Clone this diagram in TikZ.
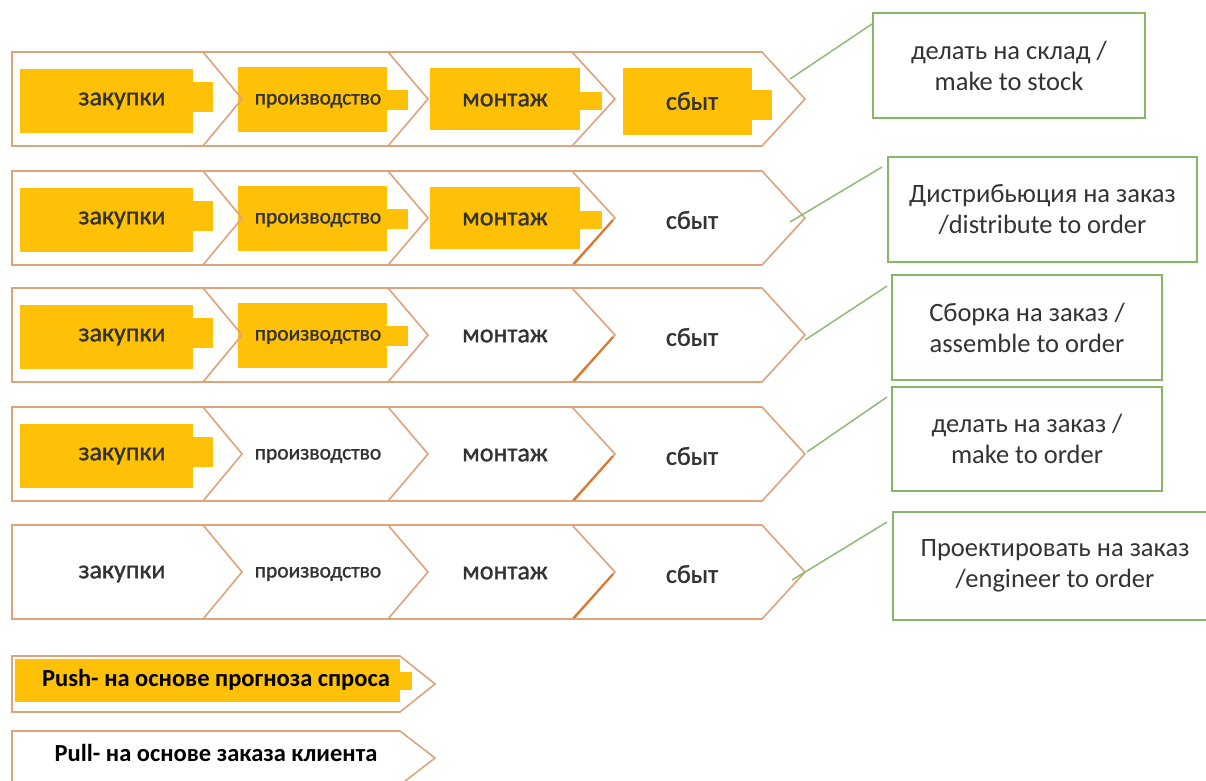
\documentclass[tikz,border=0pt]{standalone}
\usepackage{fontspec}
\setmainfont{Carlito}
\newfontfamily\medfont[FakeBold=1.2]{Carlito}
\usetikzlibrary{calc}
\definecolor{chevc}{HTML}{DDA47C}
\definecolor{chevdk}{HTML}{D97A30}
\definecolor{hly}{HTML}{FFC107}
\definecolor{txtc}{HTML}{333333}
\definecolor{boxg}{HTML}{86B66A}
\definecolor{lineg}{HTML}{8DBB78}
\tikzset{
  outl/.style={draw=chevc, line width=1.6pt, line join=miter},
  accent/.style={draw=chevdk, line width=2.2pt},
  hl/.style={fill=hly, draw=none},
  lbl/.style={text=txtc, inner sep=0pt, font=\medfont\fontsize{26}{30}\selectfont},
  lblsm/.style={text=txtc, inner sep=0pt, font=\medfont\fontsize{21.5}{25}\selectfont},
  legtxt/.style={text=black, inner sep=0pt, font=\bfseries\fontsize{24.5}{28}\selectfont},
  boxn/.style={draw=boxg, line width=2pt, text=txtc, align=center, inner sep=0pt,
    font=\fontsize{26.5}{31}\selectfont},
  conn/.style={draw=lineg, line width=1.5pt}
}
\begin{document}
\begin{tikzpicture}[x=1pt,y=-1pt]
\clip (0,0) rectangle (1206,780);
\fill[white] (0,0) rectangle (1206,780);
% rows: top / number of highlighted stages / row index
\foreach \T/\n/\r in {52/4/1,171/3/2,288/2/3,407/1/4,525/0/5}{
  \pgfmathsetmacro{\B}{\T+94}
  \pgfmathsetmacro{\M}{\T+47}
  % highlights
  \ifnum\n>0
    \fill[hl] (20,\T+17) rectangle (193,\T+81);
    \fill[hl] (193,\T+30) rectangle (213,\T+60);
  \fi
  \ifnum\n>1
    \fill[hl] (238,\T+15) rectangle (387,\T+80);
    \fill[hl] (387,\T+38) rectangle (408,\T+58);
  \fi
  \ifnum\n>2
    \fill[hl] (430,\T+16) rectangle (580,\T+78);
    \fill[hl] (580,\T+40) rectangle (602,\T+58);
  \fi
  \ifnum\n>3
    \fill[hl] (623,\T+16) rectangle (752,\T+83);
    \fill[hl] (752,\T+38) rectangle (772,\T+68);
  \fi
  % outline of the four chevrons
  \draw[outl] (12,\T) -- (762,\T) -- (805,\M) -- (762,\B) -- (12,\B) -- cycle;
  \draw[outl] (203,\T) -- (242,\M) -- (203,\B);
  \draw[outl] (388,\T) -- (428,\M) -- (388,\B);
  \draw[outl] (572,\T) -- (615,\M) -- (572,\B);
  \ifnum\r>1
    \draw[accent] (574,\B-1) -- (613,\M+2);
  \fi
  % labels
  \node[lbl]   (z\r) at (122,\M+2) {закупки};
  \node[lblsm] (p\r) at (318,\M+2) {производство};
  \node[lbl]   (m\r) at (505,\M+1) {монтаж};
  \node[lbl]   (s\r) at (692,\M+2) {сбыт};
}
% right-hand boxes
\node[boxn, minimum width=272, minimum height=105] (b1) at (1009,65.5)
  {делать на склад /\\make to stock};
\node[boxn, minimum width=309, minimum height=105] (b2) at (1042.5,209.5)
  {Дистрибьюция на заказ\\/distribute to order};
\node[boxn, minimum width=270, minimum height=105] (b3) at (1027,327.5)
  {Сборка на заказ /\\assemble to order};
\node[boxn, minimum width=270, minimum height=104] (b4) at (1027,439)
  {делать на заказ /\\make to order};
\node[boxn, minimum width=324, minimum height=108] (b5) at (1055,566)
  {Проектировать на заказ\\/engineer to order};
% connectors
\coordinate (tip1) at (790,79);
\coordinate (tip2) at (790,222);
\coordinate (tip3) at (805,340);
\coordinate (tip4) at (807,452);
\coordinate (tip5) at (792,580);
\draw[conn] (tip1) -- ($(b1.north west)+(0,12)$);
\draw[conn] (tip2) -- ($(b2.north west)+(-5,11)$);
\draw[conn] (tip3) -- ($(b3.north west)+(-4,12)$);
\draw[conn] (tip4) -- ($(b4.north west)+(-4,11)$);
\draw[conn] (tip5) -- ($(b5.north west)+(-5,11)$);
% legend
\fill[hl] (15,659) rectangle (400,702);
\fill[hl] (400,672) rectangle (412,690);
\draw[outl] (12,656) -- (400,656) -- (435,684) -- (400,712) -- (12,712) -- cycle;
\node[legtxt] (push) at (216,680) {Push- на основе прогноза спроса};
\draw[outl] (12,731) -- (400,731) -- (435,758) -- (400,785) -- (12,785) -- cycle;
\node[legtxt] (pull) at (216,753) {Pull- на основе заказа клиента};
\end{tikzpicture}
\end{document}
